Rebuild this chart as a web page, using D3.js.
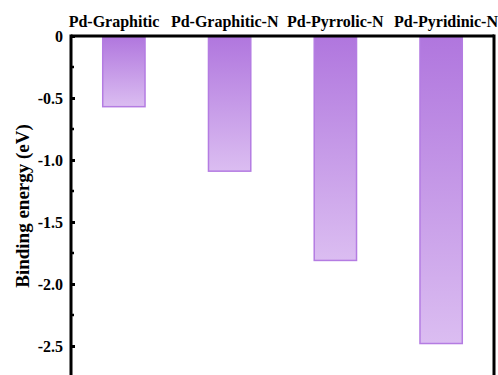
<!DOCTYPE html>
<html>
<head>
<meta charset="utf-8">
<script src="https://cdn.jsdelivr.net/npm/d3@7"></script>
<style>
  body { margin: 0; background: #fff; }
  text { font-family: "Liberation Serif", "Times New Roman", serif; font-weight: bold; }
</style>
</head>
<body>
<div id="chart"></div>
<script>
const categories = ["Pd-Graphitic", "Pd-Graphitic-N", "Pd-Pyrrolic-N", "Pd-Pyridinic-N"];
const bindingEnergy = [-0.57, -1.09, -1.81, -2.48];
const yTicks = [0, -0.5, -1.0, -1.5, -2.0, -2.5];
const yTickLabels = ["0", "-0.5", "-1.0", "-1.5", "-2.0", "-2.5"];

const W = 498, H = 375;
const margin = {top: 36, right: 4, bottom: -40, left: 71};
const width = W - margin.left - margin.right;
const height = H - margin.top - margin.bottom;

const svg = d3.select("#chart").append("svg")
    .attr("width", W)
    .attr("height", H);

// gradient for the bars, dark on top and light at the bottom
const grad = svg.append("defs").append("linearGradient")
    .attr("id", "barGrad")
    .attr("x1", 0).attr("y1", 0).attr("x2", 0).attr("y2", 1);
grad.append("stop").attr("offset", "0%").attr("stop-color", "#b076de");
grad.append("stop").attr("offset", "100%").attr("stop-color", "#dbbdf1");

const g = svg.append("g")
    .attr("transform", `translate(${margin.left},${margin.top})`);

const x = d3.scaleBand()
    .domain(categories)
    .range([0, width])
    .paddingInner(0.6)
    .paddingOuter(0.3);

// labels on top are spread a bit wider than the bars
const xLab = d3.scalePoint()
    .domain(categories)
    .range([43, 375]);

// 124 px per eV
const y = d3.scaleLinear()
    .domain([0, -height / 124])
    .range([0, height]);

// bars
g.selectAll(".bar")
    .data(categories)
    .enter()
    .append("rect")
    .attr("class", "bar")
    .attr("x", d => x(d))
    .attr("y", 0)
    .attr("width", x.bandwidth())
    .attr("height", (d, i) => y(bindingEnergy[i]) - y(0))
    .attr("fill", "url(#barGrad)")
    .attr("stroke", "#b47ce2")
    .attr("stroke-width", 1.5);

// left axis, ticks pointing inward
const yAxis = d3.axisRight(y)
    .tickValues(yTicks)
    .tickSize(4)
    .tickFormat((d, i) => yTickLabels[i]);

const yAx = g.append("g").call(yAxis);
yAx.select(".domain").remove();
yAx.selectAll(".tick line").attr("stroke", "#000").attr("stroke-width", 3);
yAx.selectAll(".tick text")
    .attr("x", -8)
    .attr("text-anchor", "end")
    .attr("dy", "0.35em")
    .style("font-size", "16px")
    .attr("fill", "#000");

// minor ticks
const minor = d3.range(-0.25, -2.9, -0.5);
g.selectAll(".minor")
    .data(minor)
    .enter()
    .append("line")
    .attr("class", "minor")
    .attr("x1", 0).attr("x2", 3)
    .attr("y1", d => y(d)).attr("y2", d => y(d))
    .attr("stroke", "#000")
    .attr("stroke-width", 2.5);

// frame
g.append("line").attr("x1", 0).attr("x2", 0).attr("y1", -1.5).attr("y2", height)
    .attr("stroke", "#000").attr("stroke-width", 3);
g.append("line").attr("x1", width).attr("x2", width).attr("y1", -1.5).attr("y2", height)
    .attr("stroke", "#000").attr("stroke-width", 3);
g.append("line").attr("x1", 0).attr("x2", width).attr("y1", 0).attr("y2", 0)
    .attr("stroke", "#000").attr("stroke-width", 3);

// category labels above the frame
g.selectAll(".cat")
    .data(categories)
    .enter()
    .append("text")
    .attr("class", "cat")
    .attr("x", d => xLab(d))
    .attr("y", -9)
    .attr("text-anchor", "middle")
    .style("font-size", "16px")
    .text(d => d);

// y label
svg.append("text")
    .attr("transform", `translate(29, 206) rotate(-90)`)
    .attr("text-anchor", "middle")
    .style("font-size", "19px")
    .text("Binding energy (eV)");
</script>
</body>
</html>
